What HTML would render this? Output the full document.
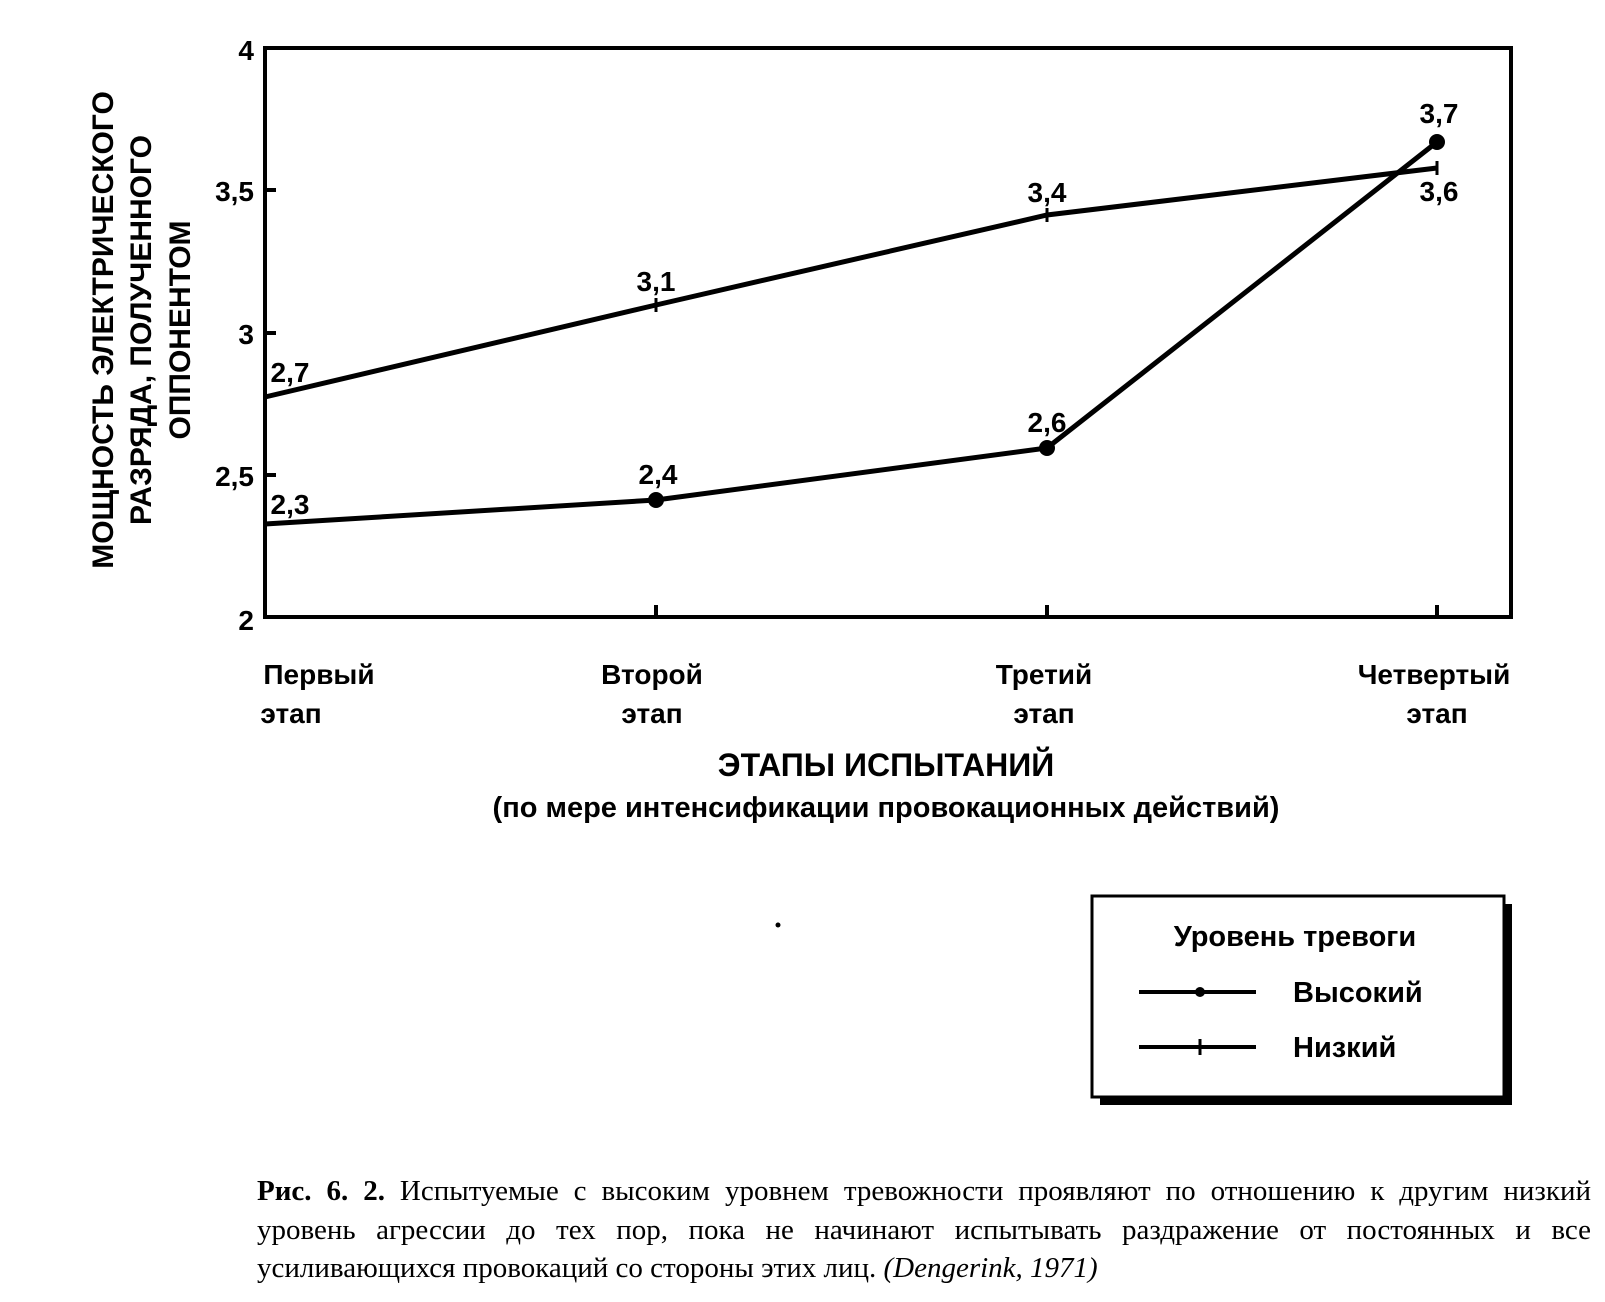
<!DOCTYPE html>
<html><head><meta charset="utf-8"><style>
body{margin:0;background:#fff;}
svg text{font-family:"Liberation Sans",sans-serif;font-weight:bold;fill:#000;}
.cap{position:absolute;left:257px;top:1172px;width:1334px;font-family:"Liberation Serif",serif;font-size:29px;line-height:38.5px;text-align:justify;text-align-last:left;color:#000;}
</style></head><body>
<svg width="1605" height="1302" style="position:absolute;left:0;top:0">
<rect x="265" y="48" width="1246" height="569" fill="none" stroke="#000" stroke-width="4"/>
<g stroke="#000" stroke-width="4">
<line x1="265" y1="190" x2="276" y2="190"/><line x1="265" y1="333" x2="276" y2="333"/><line x1="265" y1="475" x2="276" y2="475"/>
<line x1="656" y1="617" x2="656" y2="605"/><line x1="1047" y1="617" x2="1047" y2="605"/><line x1="1437" y1="617" x2="1437" y2="605"/>
</g>
<g font-size="28" text-anchor="end">
<text x="254" y="60">4</text><text x="254" y="201">3,5</text><text x="254" y="344">3</text><text x="254" y="486">2,5</text><text x="254" y="630">2</text>
</g>
<g transform="translate(141,330) rotate(-90)" font-size="30" text-anchor="middle">
<text x="0" y="-28">МОЩНОСТЬ ЭЛЕКТРИЧЕСКОГО</text>
<text x="0" y="10">РАЗРЯДА, ПОЛУЧЕННОГО</text>
<text x="0" y="49">ОППОНЕНТОМ</text>
</g>
<polyline points="265,397 656,305 1047,215 1437,168" fill="none" stroke="#000" stroke-width="5"/>
<polyline points="265,524 656,500 1047,448 1437,142" fill="none" stroke="#000" stroke-width="5"/>
<g stroke="#000" stroke-width="3"><line x1="656" y1="298" x2="656" y2="312"/><line x1="1047" y1="208" x2="1047" y2="222"/><line x1="1437" y1="161" x2="1437" y2="175"/></g>
<circle cx="656" cy="500" r="8"/><circle cx="1047" cy="448" r="8"/><circle cx="1437" cy="142" r="8"/>
<g font-size="28" text-anchor="middle">
<text x="290" y="382">2,7</text><text x="656" y="291">3,1</text><text x="1047" y="202">3,4</text><text x="1439" y="201">3,6</text><text x="1439" y="123">3,7</text>
<text x="1047" y="432">2,6</text><text x="658" y="484">2,4</text><text x="290" y="514">2,3</text>
</g>
<g font-size="28" text-anchor="middle">
<text x="319" y="684">Первый</text><text x="291" y="723">этап</text>
<text x="652" y="684">Второй</text><text x="652" y="723">этап</text>
<text x="1044" y="684">Третий</text><text x="1044" y="723">этап</text>
<text x="1434" y="684">Четвертый</text><text x="1437" y="723">этап</text>
</g>
<text x="886" y="776" font-size="32" text-anchor="middle" font-weight="normal">ЭТАПЫ ИСПЫТАНИЙ</text>
<text x="886" y="817" font-size="29" text-anchor="middle">(по мере интенсификации провокационных действий)</text>
<circle cx="778" cy="925" r="2.5"/>
<rect x="1100" y="904" width="412" height="201" fill="#000"/>
<rect x="1092" y="896" width="412" height="201" fill="#fff" stroke="#000" stroke-width="3"/>
<text x="1295" y="946" font-size="29" text-anchor="middle">Уровень тревоги</text>
<line x1="1139" y1="992" x2="1256" y2="992" stroke="#000" stroke-width="4"/><circle cx="1200" cy="992" r="5"/>
<line x1="1139" y1="1047" x2="1256" y2="1047" stroke="#000" stroke-width="4"/><line x1="1200" y1="1039" x2="1200" y2="1055" stroke="#000" stroke-width="3"/>
<text x="1293" y="1002" font-size="29">Высокий</text>
<text x="1293" y="1057" font-size="29">Низкий</text>
</svg>
<div class="cap"><b>Рис. 6. 2.</b> Испытуемые с высоким уровнем тревожности проявляют по отношению к другим низкий уровень агрессии до тех пор, пока не начинают испытывать раздражение от постоянных и все усиливающихся провокаций со стороны этих лиц. <i>(Dengerink, 1971)</i></div>
</body></html>
